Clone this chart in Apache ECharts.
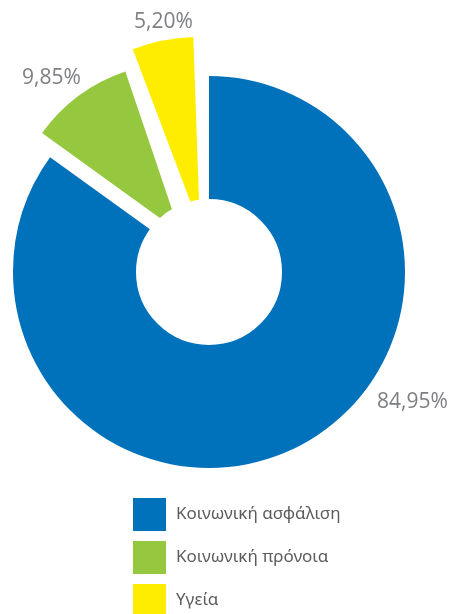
<!DOCTYPE html>
<html>
<head>
<meta charset="utf-8">
<script src="https://cdn.jsdelivr.net/npm/echarts@6/dist/echarts.min.js"></script>
<style>
  html, body { margin: 0; padding: 0; background: #fff; }
  #chart { width: 451px; height: 614px; }
</style>
</head>
<body>
<div id="chart"></div>
<script>
// data
const categories = ['Κοινωνική ασφάλιση', 'Κοινωνική πρόνοια', 'Υγεία']
const shares = [84.95, 9.85, 5.20]
const colors = ['#0071bb', '#96c83f', '#ffed00']

const center = [209, 272]
const labelPos = [[377, 402], [22, 78], [134, 22]]
const fmt = v => v.toFixed(2).replace('.', ',') + '%'

// one pie per slice so each can have its own size and explode distance
function sliceSeries (idx, radius, offset, withLabels, start) {
  return {
    type: 'pie',
    center: center,
    radius: radius,
    startAngle: start || 90,
    clockwise: true,
    selectedMode: 'single',
    selectedOffset: offset,
    avoidLabelOverlap: false,
    emphasis: { disabled: true },
    label: {
      show: withLabels,
      position: 'outside',
      formatter: p => fmt(p.value),
      fontFamily: 'Open Sans',
      fontSize: 21,
      color: '#7d7f82'
    },
    labelLine: { show: false },
    labelLayout: withLabels ? function (p) {
      return {
        x: labelPos[p.dataIndex][0],
        y: labelPos[p.dataIndex][1],
        align: 'left',
        verticalAlign: 'middle'
      }
    } : null,
    data: categories.map((name, i) => ({
      name: name,
      value: shares[i],
      selected: i === idx && offset > 0,
      itemStyle: { color: i === idx ? colors[i] : 'transparent' }
    }))
  }
}

const option = {
  animation: false,
  legend: {
    orient: 'vertical',
    left: 128,
    top: 493,
    height: 160,
    icon: 'rect',
    itemWidth: 33,
    itemHeight: 33,
    itemGap: 10,
    selectedMode: false,
    textStyle: {
      fontFamily: 'Noto Sans',
      fontSize: 17,
      color: '#5b5c5e',
      padding: [0, 0, 0, 5]
    },
    data: categories.map((name, i) => ({
      name: name,
      itemStyle: { color: colors[i], borderWidth: 0 }
    }))
  },
  series: [
    sliceSeries(0, [72, 196], 0, true),
    sliceSeries(1, [0, 170], 49, false),
    sliceSeries(2, [0, 190], 46, false, 92),
    {
      // white hole in the middle
      type: 'pie',
      center: center,
      radius: [0, 72],
      silent: true,
      label: { show: false },
      labelLine: { show: false },
      itemStyle: { color: '#fff', borderColor: '#fff', borderWidth: 2 },
      data: categories.map((name, i) => ({ name: name, value: shares[i] }))
    }
  ]
}

const myChart = echarts.init(document.getElementById('chart'))
myChart.setOption(option)
</script>
</body>
</html>
